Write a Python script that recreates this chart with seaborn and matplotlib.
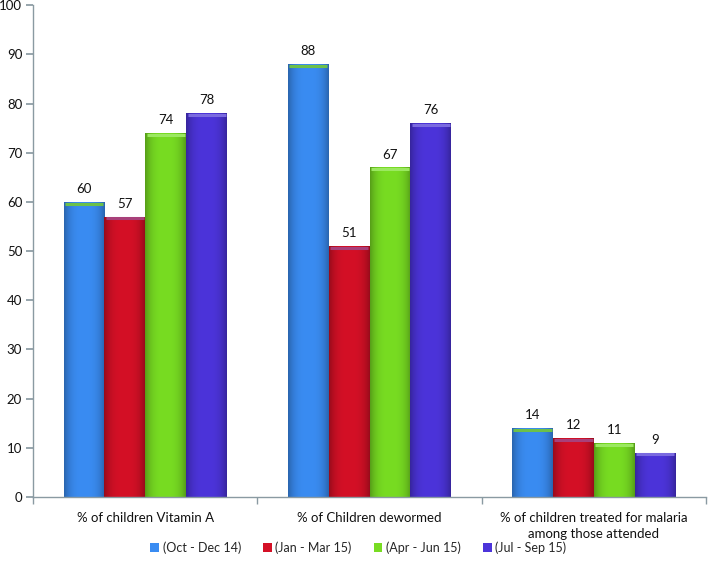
import matplotlib
matplotlib.use("Agg")
import matplotlib.pyplot as plt
import seaborn as sns
import pandas as pd
import numpy as np
from matplotlib.colors import to_rgb

categories = ["% of children Vitamin A", "% of Children dewormed",
              "% of children treated for malaria\namong those attended"]
periods = ["(Oct - Dec 14)", "(Jan - Mar 15)", "(Apr - Jun 15)", "(Jul - Sep 15)"]
values_oct_dec14 = [60, 88, 14]
values_jan_mar15 = [57, 51, 12]
values_apr_jun15 = [74, 67, 11]
values_jul_sep15 = [78, 76, 9]
colors = ["#3a8cf2", "#d41026", "#78dc22", "#4c34da"]
cap_colors = ["#6cc04a", "#a8407a", "#9be860", "#7a6ae0"]

series = [values_oct_dec14, values_jan_mar15, values_apr_jun15, values_jul_sep15]
rows = []
for p, vals in zip(periods, series):
    for c, v in zip(categories, vals):
        rows.append({"category": c, "period": p, "value": v})
df = pd.DataFrame(rows)

sns.set_theme(style="white")
plt.rcParams['font.family'] = ['Lato', 'DejaVu Sans']

fig = plt.figure(figsize=(7.08, 5.69), dpi=100)
ax = fig.add_axes([0.047, 0.1265, 0.95, 0.8645])

sns.barplot(data=df, x="category", y="value", hue="period", order=categories,
            hue_order=periods, palette=colors, width=0.73, gap=0, saturation=1,
            errorbar=None, ax=ax, legend=True, linewidth=0)

ax.set_ylim(0, 100)
ax.set_xlim(-0.5, 2.5)

# shading to mimic the 3D bevel look
prof = np.linspace(-1, 1, 64)
shade = 1 - 0.28 * np.abs(prof) ** 3
for container, col, cap in zip(ax.containers, colors, cap_colors):
    rgb = np.array(to_rgb(col))
    img = np.clip(shade[None, :, None] * rgb[None, None, :], 0, 1)
    for patch in container.patches:
        x0, y0 = patch.get_x(), patch.get_y()
        w, h = patch.get_width(), patch.get_height()
        im = ax.imshow(img, extent=(x0, x0 + w, y0, y0 + h), aspect="auto",
                       zorder=patch.get_zorder() + 0.1, interpolation="bilinear")
        im.set_clip_path(patch)
        ax.plot([x0 + w * 0.03, x0 + w * 0.97], [y0 + h - 0.35, y0 + h - 0.35],
                color=cap, lw=2.2, solid_capstyle="butt",
                zorder=patch.get_zorder() + 0.2)

ax.set_ylim(0, 100)
ax.set_xlim(-0.5, 2.5)

for container in ax.containers:
    ax.bar_label(container, fmt="%d", padding=5, fontsize=9.5, color="#111111")

ax.set_yticks(range(0, 101, 10))
ax.set_ylabel("")
ax.set_xlabel("")
for s in ["top", "right"]:
    ax.spines[s].set_visible(False)
for s in ["left", "bottom"]:
    ax.spines[s].set_color("#8a9aa2")
    ax.spines[s].set_linewidth(1.0)

ax.tick_params(axis="y", which="major", left=True, length=5, color="#8a9aa2",
               labelsize=9.5, labelcolor="#111111", pad=3)
ax.tick_params(axis="x", which="major", bottom=False, labelsize=9.5,
               labelcolor="#111111", pad=5)
for t in ax.get_xticklabels():
    t.set_linespacing(1.35)
ax.set_xticks([-0.5, 0.5, 1.5, 2.5], minor=True)
ax.tick_params(axis="x", which="minor", bottom=True, length=5, color="#8a9aa2")

handles, labels = ax.get_legend_handles_labels()
ax.legend_.remove()
fig.legend(handles, labels, loc="center", bbox_to_anchor=(0.506, 0.038), ncol=4,
           frameon=False, fontsize=9, handlelength=0.7, handleheight=0.7,
           handletextpad=0.3, columnspacing=1.75)

fig.savefig("out.png", dpi=100)
